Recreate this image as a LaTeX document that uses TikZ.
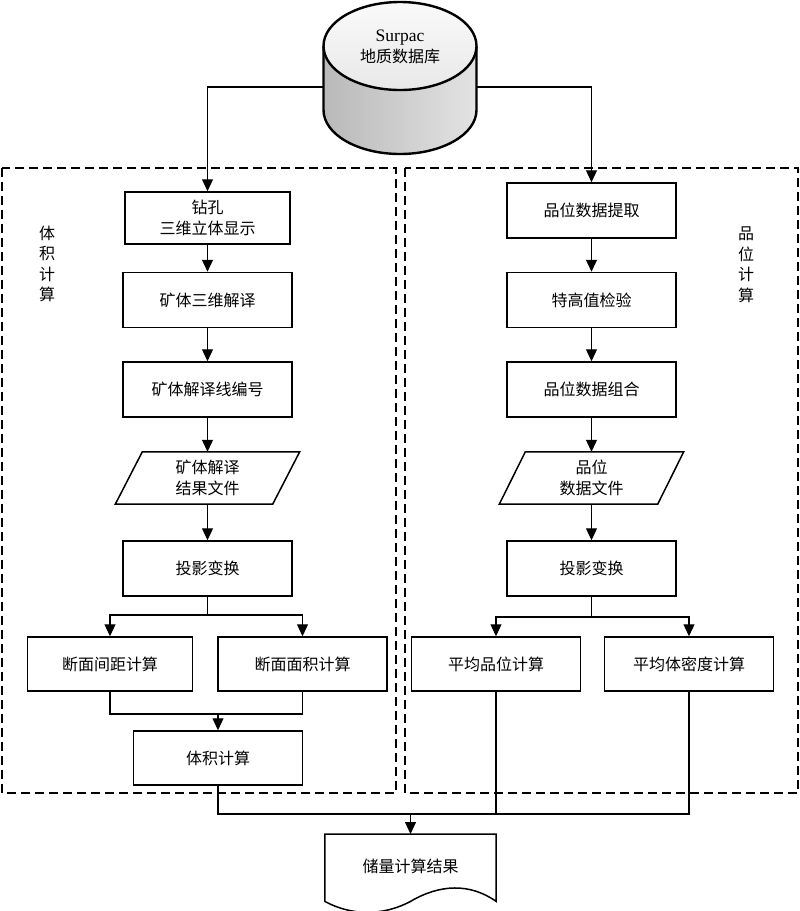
\documentclass[tikz,border=0pt]{standalone}
\usepackage{fontspec}
\setmainfont{Liberation Serif}
\newfontfamily\cjk{Noto Sans CJK SC}
\usetikzlibrary{arrows.meta,shapes.geometric}
\tikzset{
  boxline/.style={draw, line width=1.5pt},
  box/.style={boxline, minimum width=169pt, minimum height=55pt, inner sep=0pt, align=center},
  para/.style={minimum width=184pt, minimum height=52pt, inner sep=0pt, align=center},
  arr/.style={-{Triangle[length=12pt,width=11pt]}, line width=1.2pt},
  ln/.style={line width=1.2pt},
  grp/.style={draw, dash pattern=on 9pt off 5pt, line width=1.5pt},
  vlab/.style={align=center, inner sep=0pt},
}
\begin{document}
\begin{tikzpicture}[x=1pt,y=-1pt,font=\cjk\fontsize{16}{20.5}\selectfont]
\useasboundingbox (0,0) rectangle (800,911);
% groups
\draw[grp] (2,168) rectangle (396,793);
\draw[grp] (405,168) rectangle (798,793);
\node[vlab] (lab1) at (47,264) {体\\积\\计\\算};
\node[vlab] (lab2) at (746,265) {品\\位\\计\\算};
% database cylinder
\fill[left color=gray!55, right color=gray!22] (323.5,46) -- (323.5,110)
  arc[start angle=180, end angle=360, x radius=76.5pt, y radius=44pt] -- (476.5,46) -- cycle;
\draw[line width=2.4pt] (323.5,46) -- (323.5,110)
  arc[start angle=180, end angle=360, x radius=76.5pt, y radius=44pt] -- (476.5,46);
\filldraw[top color=gray!4, bottom color=gray!18, line width=2.4pt] (400,46) ellipse [x radius=76.5pt, y radius=44pt];
\node[align=center, inner sep=0pt] (db) at (400,47) {{\normalfont\fontsize{17.5}{21}\selectfont Surpac}\\地质数据库};
\coordinate (dbL) at (323.5,87);
\coordinate (dbR) at (476.5,87);
% left column
\node[box, minimum width=165pt, minimum height=52pt] (b1) at (207.5,218) {钻孔\\三维立体显示};
\node[box] (b2) at (207.5,300) {矿体三维解译};
\node[box] (b3) at (207.5,389.5) {矿体解译线编号};
\node[para] (p1) at (207.5,478) {矿体解译\\结果文件};
\draw[boxline] ([xshift=27pt]p1.north west) -- (p1.north east) -- ([xshift=-27pt]p1.south east) -- (p1.south west) -- cycle;
\node[box] (b4) at (207.5,568.5) {投影变换};
\node[box, minimum width=165pt, minimum height=54pt] (b5) at (110,664) {断面间距计算};
\node[box, minimum height=54pt] (b6) at (302.5,664) {断面面积计算};
\node[box, minimum height=54pt] (b7) at (218,758) {体积计算};
% right column
\node[box] (r1) at (591.5,210.5) {品位数据提取};
\node[box] (r2) at (591.5,300) {特高值检验};
\node[box] (r3) at (591.5,389.5) {品位数据组合};
\node[para] (rp) at (591.5,478) {品位\\数据文件};
\draw[boxline] ([xshift=26pt]rp.north west) -- (rp.north east) -- ([xshift=-26pt]rp.south east) -- (rp.south west) -- cycle;
\node[box] (r4) at (591.5,568.5) {投影变换};
\node[box, minimum height=54pt] (r5) at (496,664) {平均品位计算};
\node[box, minimum height=54pt] (r6) at (689,664) {平均体密度计算};
% result document
\node[minimum width=171pt, minimum height=67pt, inner sep=0pt, anchor=north] (doc) at (410.5,834) {\raisebox{4pt}{储量计算结果}};
\draw[boxline] (doc.north west) -- (doc.north east) -- (doc.south east)
  .. controls (470,883) and (440,884) .. (doc.south)
  .. controls (381,917) and (350,915) .. (doc.south west) -- cycle;
% connectors
\draw[arr] (dbL) -| (b1.north);
\draw[arr] (dbR) -| (r1.north);
\draw[arr] (b1) -- (b2);
\draw[arr] (b2) -- (b3);
\draw[arr] (b3) -- (p1);
\draw[arr] (p1) -- (b4);
\coordinate (j1) at (207.5,615);
\draw[ln] (b4.south) -- (j1);
\draw[arr] (j1) -| (b5.north);
\draw[arr] (j1) -| (b6.north);
\coordinate (j2) at (218,714);
\draw[ln] (b5.south) |- (j2);
\draw[ln] (b6.south) |- (j2);
\draw[arr] (j2) -- (b7.north);
\draw[arr] (r1) -- (r2);
\draw[arr] (r2) -- (r3);
\draw[arr] (r3) -- (rp);
\draw[arr] (rp) -- (r4);
\coordinate (j3) at (591.5,617);
\draw[ln] (r4.south) -- (j3);
\draw[arr] (j3) -| (r5.north);
\draw[arr] (j3) -| (r6.north);
\coordinate (j4) at (410.5,814);
\draw[ln] (b7.south) |- (j4);
\draw[ln] (r5.south) |- (j4);
\draw[ln] (r6.south) |- (j4);
\draw[arr] (j4) -- (doc.north);
\end{tikzpicture}
\end{document}
